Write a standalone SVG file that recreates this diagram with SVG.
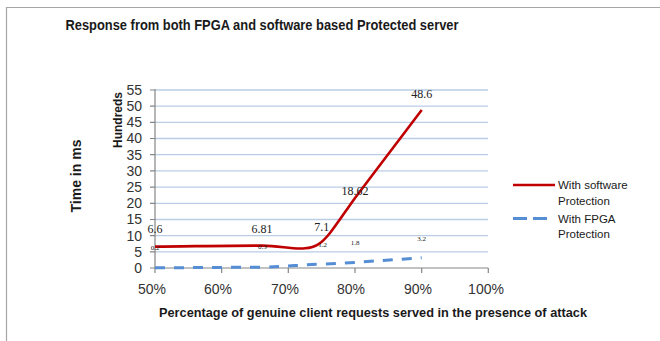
<svg xmlns="http://www.w3.org/2000/svg" width="660" height="341" viewBox="0 0 660 341" xml:space="preserve">
<style>
.t{font-family:"Liberation Sans",Arial,sans-serif;fill:#1a1a1a}
.b{font-weight:bold}
.ax{font-size:14px;fill:#333}
.dl{font-family:"Liberation Serif","DejaVu Serif",serif;font-size:12px;fill:#222}
.sm{font-family:"Liberation Serif","DejaVu Serif",serif;font-size:7px;fill:#222}
.grid{stroke:#b9cde5;stroke-width:1.3}
.axis{stroke:#868686;stroke-width:1.2;fill:none}
</style>
<rect width="660" height="341" fill="#fff"/>
<path d="M6.5,341 V7.5 H660" fill="none" stroke="#a6a6a6" stroke-width="1.2"/>
<text class="t b" x="262" y="30" font-size="15" text-anchor="middle" textLength="393" lengthAdjust="spacingAndGlyphs">Response from both FPGA and software based  Protected server</text>
<g id="grid">
<line class="grid" x1="155" x2="488" y1="90" y2="90"/>
<line class="grid" x1="155" x2="488" y1="106.2" y2="106.2"/>
<line class="grid" x1="155" x2="488" y1="122.4" y2="122.4"/>
<line class="grid" x1="155" x2="488" y1="138.5" y2="138.5"/>
<line class="grid" x1="155" x2="488" y1="154.7" y2="154.7"/>
<line class="grid" x1="155" x2="488" y1="170.9" y2="170.9"/>
<line class="grid" x1="155" x2="488" y1="187.1" y2="187.1"/>
<line class="grid" x1="155" x2="488" y1="203.3" y2="203.3"/>
<line class="grid" x1="155" x2="488" y1="219.5" y2="219.5"/>
<line class="grid" x1="155" x2="488" y1="235.6" y2="235.6"/>
<line class="grid" x1="155" x2="488" y1="251.8" y2="251.8"/>
</g>
<g id="axes">
<path class="axis" d="M155,89 V268 H488.3"/>
<path class="axis" d="M150,90 H155 M150,106.2 H155 M150,122.4 H155 M150,138.5 H155 M150,154.7 H155 M150,170.9 H155 M150,187.1 H155 M150,203.3 H155 M150,219.5 H155 M150,235.6 H155 M150,251.8 H155 M150,268 H155"/>
<path class="axis" d="M155,268 V273 M221.7,268 V273 M288.3,268 V273 M355,268 V273 M421.7,268 V273 M488.3,268 V273"/>
</g>
<g id="ylabels" class="t ax" text-anchor="end">
<text x="142" y="95">55</text>
<text x="142" y="111">50</text>
<text x="142" y="127">45</text>
<text x="142" y="143">40</text>
<text x="142" y="159.5">35</text>
<text x="142" y="175.5">30</text>
<text x="142" y="192">25</text>
<text x="142" y="208">20</text>
<text x="142" y="224">15</text>
<text x="142" y="240.5">10</text>
<text x="142" y="256.5">5</text>
<text x="142" y="273">0</text>
</g>
<g id="xlabels" class="t ax" text-anchor="middle">
<text x="152" y="294">50%</text>
<text x="218" y="294">60%</text>
<text x="285" y="294">70%</text>
<text x="351" y="294">80%</text>
<text x="418" y="294">90%</text>
<text x="486" y="294">100%</text>
</g>
<text class="t b" x="0" y="0" font-size="12" text-anchor="middle" transform="translate(122,120) rotate(-90)">Hundreds</text>
<text class="t b" x="0" y="0" font-size="14" text-anchor="middle" transform="translate(81,176) rotate(-90)">Time in ms</text>
<text class="t b" x="373" y="317" font-size="13.5" text-anchor="middle" textLength="428" lengthAdjust="spacingAndGlyphs">Percentage of genuine client requests served  in the presence of attack</text>
<g id="connectors">
<path id="software" d="M155,246.6 C190,246.3 235,245.5 262,245.6 C280,245.7 292,249.5 305,248.3 C316,247.5 322,243 330,233 C337,224 345,212 355,198 L421.7,110" fill="none" stroke="#c00000" stroke-width="2.6" stroke-linejoin="round"/>
<path id="fpga" d="M155,267.8 L262,267.2 C285,266.5 300,265 322,264.1 L355,262.4 L421.7,257.8" fill="none" stroke="#558ed5" stroke-width="3" stroke-dasharray="10,9"/>
</g>
<g id="datalabels">
<text class="dl" x="155" y="233" text-anchor="middle">6.6</text>
<text class="dl" x="262" y="232.5" text-anchor="middle">6.81</text>
<text class="dl" x="321.7" y="231" text-anchor="middle">7.1</text>
<text class="dl" x="355" y="194.5" text-anchor="middle">18.62</text>
<text class="dl" x="421.7" y="97.5" text-anchor="middle">48.6</text>
<text class="sm" x="155" y="250" text-anchor="middle">0.2</text>
<text class="sm" x="262.3" y="249" text-anchor="middle">0.3</text>
<text class="sm" x="322.7" y="246.5" text-anchor="middle">1.2</text>
<text class="sm" x="355" y="245" text-anchor="middle">1.8</text>
<text class="sm" x="421.7" y="240.5" text-anchor="middle">3.2</text>
</g>
<g id="legend">
<line x1="513" x2="555" y1="185" y2="185" stroke="#c00000" stroke-width="2.6"/>
<text class="t" x="558" y="189" font-size="11.5">With software</text>
<text class="t" x="558" y="204.5" font-size="11.5">Protection</text>
<line x1="513" x2="547" y1="218.5" y2="218.5" stroke="#558ed5" stroke-width="3" stroke-dasharray="14,6"/>
<text class="t" x="558" y="222.5" font-size="11.5">With FPGA</text>
<text class="t" x="558" y="237.5" font-size="11.5">Protection</text>
</g>
</svg>
